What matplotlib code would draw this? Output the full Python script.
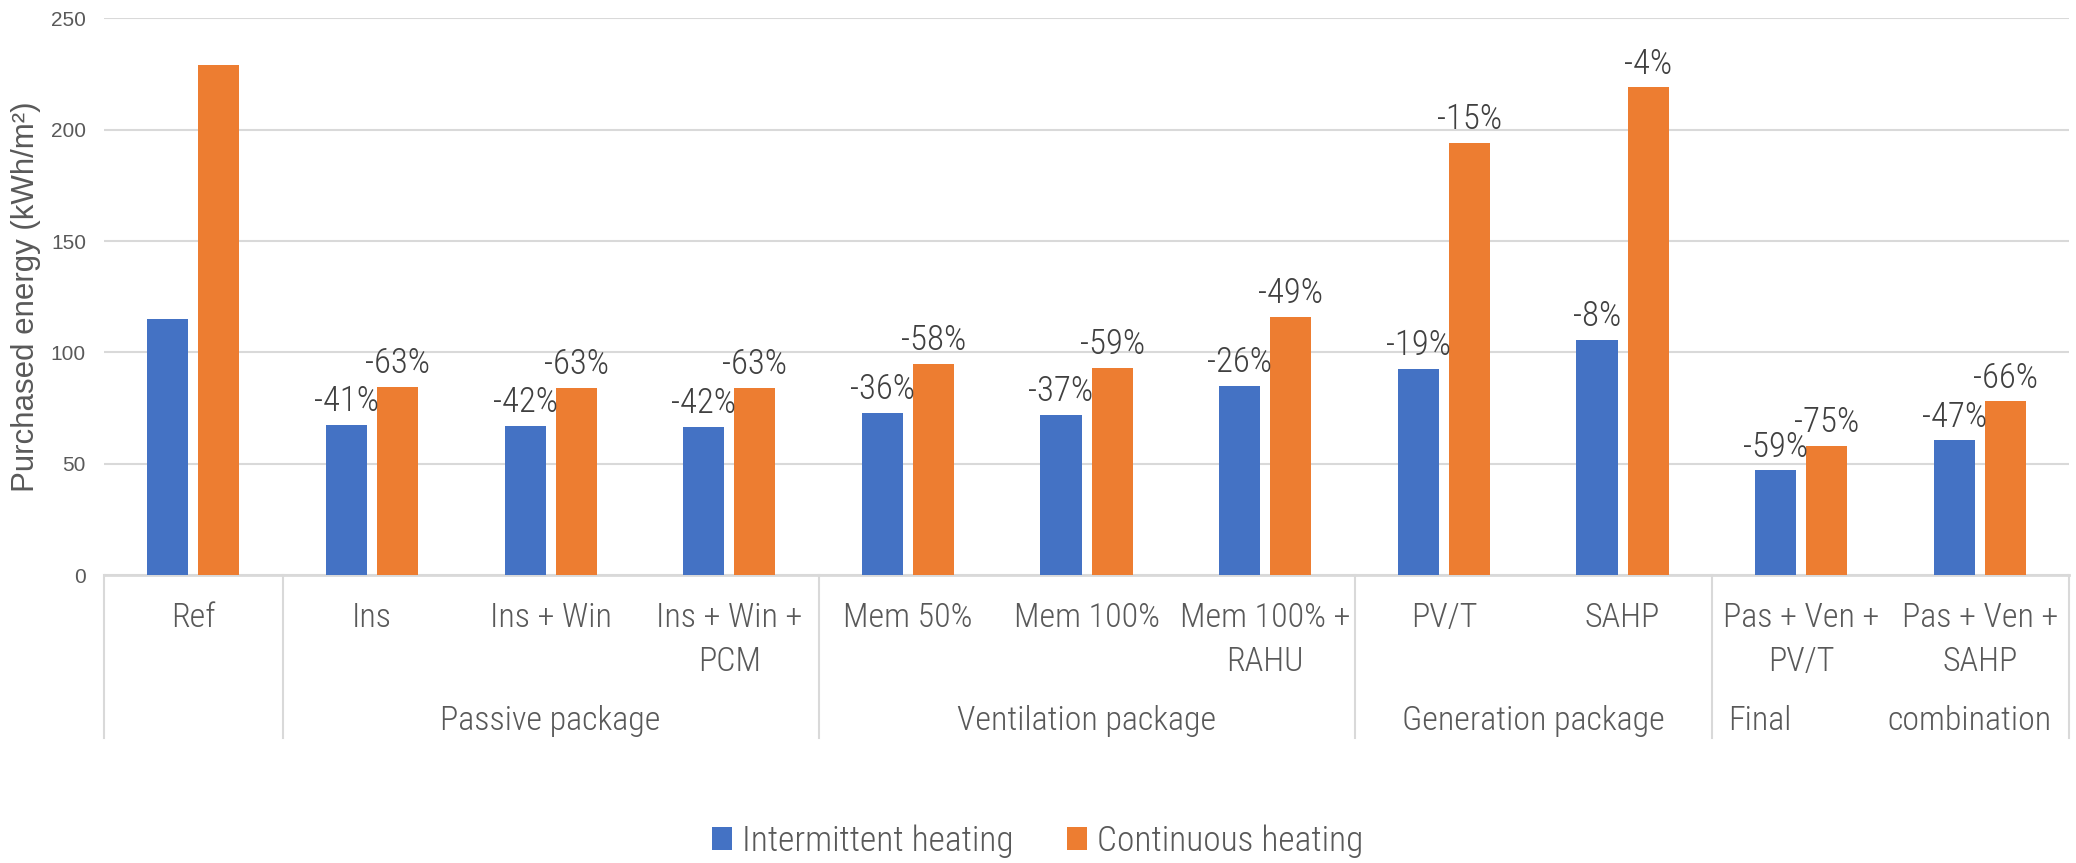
import matplotlib
matplotlib.use('Agg')
import numpy as np
import matplotlib.pyplot as plt
from matplotlib import font_manager
from matplotlib.transforms import blended_transform_factory

# -----------data
categories = ['Ref', 'Ins', 'Ins + Win', 'Ins + Win +\nPCM', 'Mem 50%', 'Mem 100%',
              'Mem 100% +\nRAHU', 'PV/T', 'SAHP', 'Pas + Ven +\nPV/T', 'Pas + Ven +\nSAHP']
intermittent = [115, 67.5, 67, 66.5, 73, 72, 85, 92.5, 105.5, 47, 60.5]
continuous = [229, 84.5, 84, 84, 95, 93, 116, 194, 219, 58, 78]
int_labels = ['', '-41%', '-42%', '-42%', '-36%', '-37%', '-26%', '-19%', '-8%', '-59%', '-47%']
con_labels = ['', '-63%', '-63%', '-63%', '-58%', '-59%', '-49%', '-15%', '-4%', '-75%', '-66%']
groups = ['Passive package', 'Ventilation package', 'Generation package']
group_centers = [2, 5, 7.5]
group_edges = [-0.5, 0.5, 3.5, 6.5, 8.5, 10.5]

# -----------fonts
names = {f.name for f in font_manager.fontManager.ttflist}
narrow = next(n for n in ['Liberation Sans Narrow', 'Roboto Condensed', 'DejaVu Sans Condensed',
                          'Liberation Sans'] if n in names)
plain = 'Liberation Sans' if 'Liberation Sans' in names else 'DejaVu Sans'

blue = '#4472C4'
orange = '#ED7D31'
grid = '#D9D9D9'
txt = '#595959'

fig = plt.figure(figsize=(20.76, 8.63), dpi=100)
ax = fig.add_axes([0.0501, 0.3337, 0.9466, 0.6449])

x = np.arange(len(categories))
w = 0.23
off = 0.143
b1 = ax.bar(x - off, intermittent, w, color=blue, label='Intermittent heating', zorder=3)
b2 = ax.bar(x + off, continuous, w, color=orange, label='Continuous heating', zorder=3)

for bars, labs in [(b1, int_labels), (b2, con_labels)]:
    for r, t in zip(bars, labs):
        if t:
            ax.text(r.get_x() + r.get_width() / 2, r.get_height() + 3, t,
                    ha='center', va='bottom', fontsize=25, color='#404040',
                    family=narrow, weight='light')

ax.set_xlim(-0.5, 10.5)
ax.set_ylim(0, 250)
ax.set_yticks(np.arange(0, 251, 50))
ax.yaxis.grid(True, color=grid, linewidth=1.5, zorder=0)
ax.tick_params(axis='y', length=0, pad=13, labelsize=15, labelcolor=txt)
for lab in ax.get_yticklabels():
    lab.set_family(plain)
ax.set_xticks([])
for s in ['left', 'right', 'top']:
    ax.spines[s].set_visible(False)
ax.spines['bottom'].set_color(grid)
ax.spines['bottom'].set_linewidth(2)
ax.set_ylabel('Purchased energy (kWh/m²)', fontsize=22.5, color=txt, family=plain, labelpad=7)

# -----------two-level category axis
tr = blended_transform_factory(ax.transData, ax.transAxes)
for xe in group_edges:
    ax.plot([xe, xe], [0, -0.293], transform=tr, color=grid, linewidth=1.5, clip_on=False)
for xi, c in zip(x, categories):
    ax.text(xi, -0.049, c, transform=tr, ha='center', va='top', fontsize=24.5,
            color=txt, family=narrow, weight='light', linespacing=1.45)
for gc, g in zip(group_centers, groups):
    ax.text(gc, -0.234, g, transform=tr, ha='center', va='top', fontsize=24.5,
            color=txt, family=narrow, weight='light')
ax.text(8.59, -0.234, 'Final', transform=tr, ha='left', va='top', fontsize=24.5,
        color=txt, family=narrow, weight='light')
ax.text(10.40, -0.234, 'combination', transform=tr, ha='right', va='top', fontsize=24.5,
        color=txt, family=narrow, weight='light')

leg = fig.legend(loc='center', bbox_to_anchor=(0.5, 0.025), ncol=2, frameon=False,
                 prop={'family': narrow, 'size': 25.5, 'weight': 'light'},
                 handlelength=0.55, handleheight=0.6,
                 handletextpad=0.3, columnspacing=1.5, labelcolor=txt)

fig.savefig('out.png', dpi=100)
